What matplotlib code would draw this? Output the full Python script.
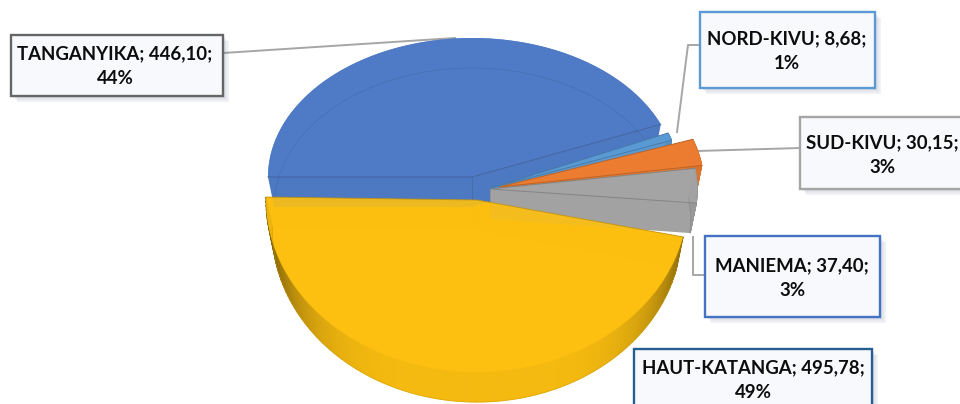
import numpy as np
import matplotlib
matplotlib.use("Agg")
import matplotlib.pyplot as plt
from matplotlib.patches import Rectangle

plt.rcParams['font.family'] = ['Lato', 'DejaVu Sans']

names = ["TANGANYIKA", "NORD-KIVU", "SUD-KIVU", "MANIEMA", "HAUT-KATANGA"]
values = [446.10, 8.68, 30.15, 37.40, 495.78]
percents = [44, 1, 3, 3, 49]

colors = ["#4f7bc6", "#5b9bd5", "#ed7d31", "#a5a5a5", "#fdc010"]
edges = ["#666666", "#5b9bd5", "#a5a5a5", "#4472c4", "#255e91"]
top_alpha = [0.9, 0.85, 0.85, 0.8, 0.88]
cut_alpha = [1, 1, 1, 1, 0.25]

# fake 3d: apex and radii for each slice
apex = [(472, 177), (491, 188), (499, 187), (490, 189), (477, 200)]
rx = [204, 191, 205, 207, 211]
ry_up = [139, 145, 145, 139, 139]
ry_down = [172, 172, 172, 172, 172]
depth = 30

boxes = [(11, 35, 212, 61), (700, 12, 175, 76), (800, 117, 175, 72),
         (705, 236, 175, 81), (634, 349, 238, 70)]
text_xy = [(115, 66), (787, 51), (882, 155), (792, 278), (753, 380)]
leaders = [[(223, 53), (455, 38)],
           [(700, 45), (688, 45), (677, 132)],
           [(800, 148), (697, 151)],
           [(705, 275), (693, 275), (693, 237)],
           ]

fig = plt.figure(figsize=(9.6, 4.04), dpi=100)
ax = fig.add_axes([0, 0, 1, 1])
ax.set_xlim(0, 960)
ax.set_ylim(404, 0)
ax.axis('off')


def rim(i, theta, dz=0, scale=1.0):
    t = np.radians(theta)
    ry = np.where(np.sin(t) > 0, ry_up[i], ry_down[i])
    x = apex[i][0] + rx[i] * scale * np.cos(t)
    y = apex[i][1] - ry * np.sin(t) + dz
    return x, y


def shade(c, f):
    return tuple(np.array(matplotlib.colors.to_rgb(c)) * f)


total = sum(values)
start = 180.0
for i in range(len(values)):
    sweep = values[i] / total * 360
    t0 = start
    t1 = start - sweep
    start = t1
    if i == 4:
        # perspective pushes the big slice down on the right
        t0, t1 = -12.4, -12.4 - sweep * 0.963
    ths = np.linspace(t0, t1, 120)
    x, y = rim(i, ths)
    xb, yb = rim(i, ths, depth, 0.97)
    ax_, ay_ = apex[i]

    # opaque base so the see-through top only tints over other slices
    ax.fill(np.r_[ax_, x], np.r_[ay_, y], color=colors[i], lw=0, zorder=1.5)

    # cut faces
    for k in [0, -1]:
        ax.fill([ax_, x[k], xb[k], ax_], [ay_, y[k], yb[k], ay_ + depth],
                color=shade(colors[i], 0.98), alpha=cut_alpha[i], lw=0, zorder=2 + i)
    ax.plot([ax_, ax_], [ay_, ay_ + depth], color=shade(colors[i], 0.8),
            lw=0.6, alpha=0.6, zorder=2 + i)

    # side of the disc, darker towards the ends
    for k in range(0, len(ths) - 1):
        mid = np.radians((ths[k] + ths[k + 1]) / 2)
        if i == 0:
            continue
        if i == 4:
            f = 0.97 - 0.45 * abs(np.cos(mid)) ** 5
        else:
            f = 0.92
        ax.fill([x[k], x[k + 1], xb[k + 1], xb[k]], [y[k], y[k + 1], yb[k + 1], yb[k]],
                facecolor=shade(colors[i], f), edgecolor=shade(colors[i], f), lw=0.8, zorder=2 + i)

    # top of the slice
    ax.fill(np.r_[ax_, x], np.r_[ay_, y], color=colors[i], alpha=top_alpha[i], lw=0, zorder=3 + i)
    ax.plot([x[0], ax_, x[-1]], [y[0], ay_, y[-1]], color=shade(colors[i], 0.75),
            lw=0.7, alpha=0.8, zorder=3 + i)

    # bottom rim seen through the top
    ax.plot(xb, yb, color=shade(colors[i], 0.8), lw=0.6, alpha=0.45, zorder=3 + i)

# leader lines
for pts in leaders:
    xs, ys = zip(*pts)
    ax.plot(xs, ys, color="#a6a6a6", lw=1.4, zorder=1)

# label boxes
for i in range(len(names)):
    bx, by, bw, bh = boxes[i]
    for s in range(1, 9):
        ax.add_patch(Rectangle((bx + s * 0.8, by + s * 0.8), bw, bh, color="#5a6a8a",
                               alpha=0.035, lw=0, zorder=10))
    ax.add_patch(Rectangle((bx, by), bw, bh, facecolor="#f8f9fc", edgecolor=edges[i],
                           lw=1.7, zorder=11))
    val = f"{values[i]:.2f}".replace(".", ",")
    label = f"{names[i]}; {val};\n{percents[i]}%"
    ax.text(text_xy[i][0], text_xy[i][1], label, ha='center', va='center', fontsize=13.4,
            fontweight='bold', color="#0d0d0d", linespacing=1.55, zorder=12)

fig.savefig("out.png", dpi=100)
